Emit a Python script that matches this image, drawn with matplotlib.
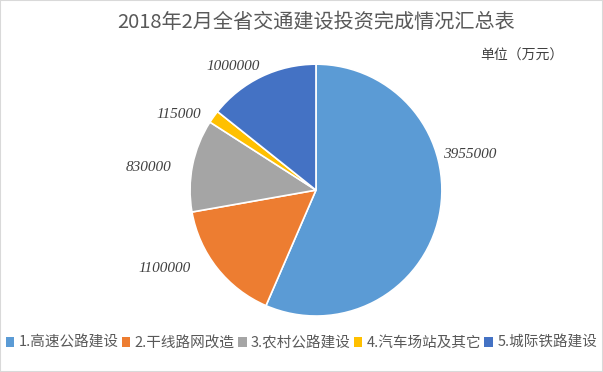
import matplotlib
matplotlib.use("Agg")
import matplotlib.pyplot as plt
from matplotlib.patches import Rectangle, Patch

plt.rcParams['font.family'] = ['Noto Sans CJK SC', 'DejaVu Sans']

# data
categories = ['1.高速公路建设', '2.干线路网改造', '3.农村公路建设', '4.汽车场站及其它', '5.城际铁路建设']
values = [3955000, 1100000, 830000, 115000, 1000000]
colors = ['#5B9BD5', '#ED7D31', '#A5A5A5', '#FFC000', '#4472C4']
title = '2018年2月全省交通建设投资完成情况汇总表'
unit = '单位（万元）'

# label positions (data coords of pie, radius 1)
label_pos = [(1.22, 0.28), (-1.20, -0.62), (-1.33, 0.18), (-1.09, 0.60), (-0.66, 0.98)]

fig = plt.figure(figsize=(6.03, 3.72), dpi=100)
fig.patches.append(Rectangle((0, 0), 1, 1, transform=fig.transFigure, fill=False,
                             edgecolor='#D9D9D9', linewidth=1.5))

ax = fig.add_axes([0.315, 0.1505, 0.418, 0.677])
ax.pie(values, colors=colors, startangle=90, counterclock=False,
       wedgeprops=dict(edgecolor='white', linewidth=1.2))
ax.set_xlim(-1, 1)
ax.set_ylim(-1, 1)
ax.set_aspect('equal')

for v, (x, y) in zip(values, label_pos):
    ax.text(x, y, str(v), ha='center', va='center', fontsize=11,
            family='Liberation Serif', style='italic', color='#404040')

fig.text(0.524, 0.94, title, ha='center', va='center', fontsize=14.5,
         color='#595959', fontweight='light')
fig.text(0.865, 0.85, unit, ha='center', va='center', fontsize=10, color='#404040',
         fontweight='light')

handles = [Patch(facecolor=c) for c in colors]
leg = fig.legend(handles, categories, loc='center', bbox_to_anchor=(0.5, 0.078),
                 ncol=5, frameon=False, fontsize=10.5, handlelength=0.6,
                 handleheight=0.6, handletextpad=0.3, columnspacing=0.2,
                 labelcolor='#595959')

fig.savefig('out.png', dpi=100)
